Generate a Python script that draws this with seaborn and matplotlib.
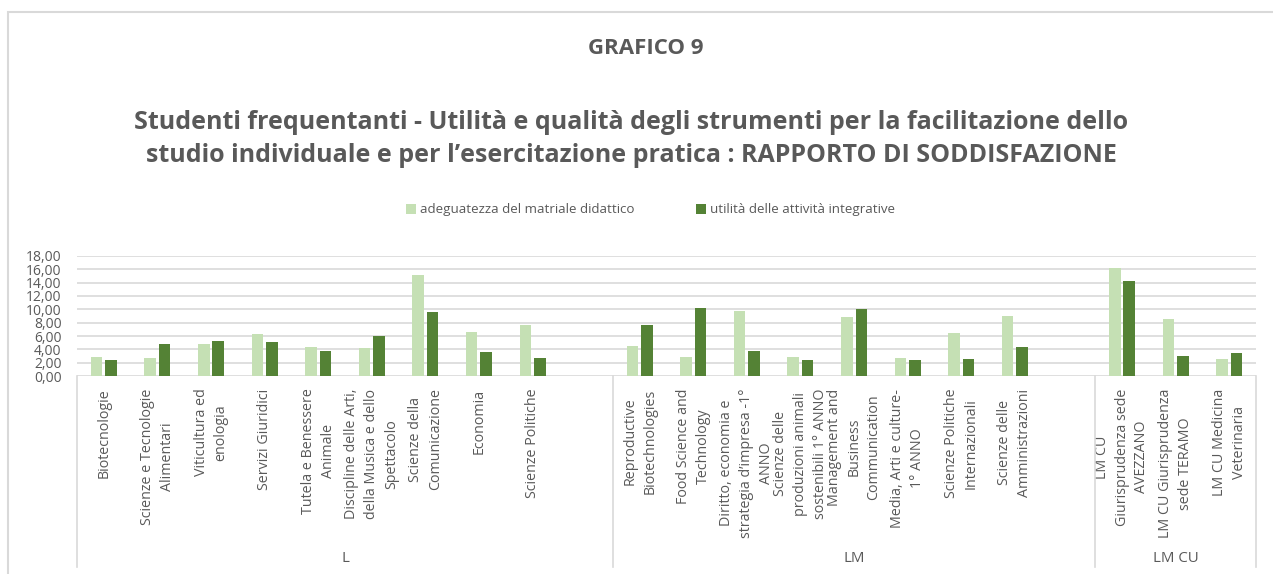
import seaborn as sns
import pandas as pd
import matplotlib.pyplot as plt
from matplotlib.patches import Rectangle

import warnings

warnings.filterwarnings("ignore")

# dati
corsi_l = ['Biotecnologie', 'Scienze e Tecnologie\nAlimentari', 'Viticultura ed\nenologia',
           'Servizi Giuridici', 'Tutela e Benessere\nAnimale',
           'Discipline delle Arti,\ndella Musica e dello\nSpettacolo', 'Scienze della\nComunicazione',
           'Economia', 'Scienze Politiche']
corsi_lm = ['Reproductive\nBiotechnologies', 'Food Science and\nTechnology',
            'Diritto, economia e\nstrategia d’impresa -1°\nANNO',
            'Scienze delle\nproduzioni animali\nsostenibili 1° ANNO',
            'Management and\nBusiness\nCommunication', 'Media, Arti e culture-\n1° ANNO',
            'Scienze Politiche\nInternazionali', 'Scienze delle\nAmministrazioni']
corsi_lmcu = ['LM CU\nGiurisprudenza sede\nAVEZZANO', 'LM CU Giurisprudenza\nsede TERAMO',
              'LM CU Medicina\nVeterinaria']
gruppi = ['L', 'LM', 'LM CU']

adeguatezza_l = [2.91, 2.66, 4.87, 6.28, 4.32, 4.27, 15.18, 6.53, 7.64]
utilita_l = [2.46, 4.82, 5.28, 5.03, 3.72, 5.93, 9.55, 3.67, 2.76]
adeguatezza_lm = [4.57, 2.86, 9.70, 2.86, 8.84, 2.76, 6.38, 9.05]
utilita_lm = [7.59, 10.25, 3.82, 2.46, 10.00, 2.41, 2.56, 4.37]
adeguatezza_lmcu = [16.18, 8.59, 2.61]
utilita_lmcu = [14.32, 3.02, 3.52]

serie = ['adeguatezza del matriale didattico', 'utilità delle attività integrative']

grigio = '#595959'
linea = '#D9D9D9'
colori = ['#C5E0B4', '#548235']


def build_frame():
    corsi = corsi_l + corsi_lm + corsi_lmcu
    ade = adeguatezza_l + adeguatezza_lm + adeguatezza_lmcu
    uti = utilita_l + utilita_lm + utilita_lmcu
    rows = []
    for c, a, u in zip(corsi, ade, uti):
        rows.append({'corso': c, 'serie': serie[0], 'valore': a})
        rows.append({'corso': c, 'serie': serie[1], 'valore': u})
    return pd.DataFrame(rows)


def grafico9():
    plt.rcParams['font.family'] = ['Open Sans', 'DejaVu Sans']
    df = build_frame()
    # slot vuoti alla fine dei gruppi L e LM, come nell'originale
    order = corsi_l + [' '] + corsi_lm + ['  '] + corsi_lmcu

    fig = plt.figure(figsize=(12.73, 5.74), dpi=100)
    ax = fig.add_axes([77 / 1273, 1 - 376 / 574, (1256 - 77) / 1273, 120 / 574])

    sns.barplot(data=df, x='corso', y='valore', hue='serie', order=order, hue_order=serie,
                palette=colori, width=0.54, gap=0.2, saturation=1, errorbar=None, ax=ax)

    ax.set_ylim(0, 18)
    ax.set_xlim(-0.5, len(order) - 0.5)
    ax.set_yticks(range(0, 19, 2))
    ax.set_yticklabels([('%.2f' % v).replace('.', ',') for v in range(0, 19, 2)])
    ax.set_xlabel('')
    ax.set_ylabel('')
    ax.set_axisbelow(True)
    ax.grid(axis='y', color=linea, linewidth=1.2)
    ax.grid(axis='x', visible=False)
    for s in ax.spines.values():
        s.set_visible(False)
    ax.tick_params(axis='both', length=0, colors=grigio)
    ax.tick_params(axis='y', labelsize=10, pad=11)
    ax.tick_params(axis='x', labelsize=10.3, pad=9)
    for t in ax.get_xticklabels():
        t.set_rotation(90)
        t.set_ha('center')
        t.set_va('top')
        t.set_multialignment('center')
        t.set_linespacing(1.45)

    # separatori e nomi dei gruppi
    tr = ax.get_xaxis_transform()
    confini = [-0.5, len(corsi_l) + 0.5, len(corsi_l) + len(corsi_lm) + 1.5, len(order) - 0.5]
    for xb in confini:
        ax.plot([xb, xb], [0, -1.59], transform=tr, color=linea, lw=1.2, clip_on=False)
    for i, g in enumerate(gruppi):
        ax.text((confini[i] + confini[i + 1]) / 2, -1.52, g, transform=tr, ha='center',
                va='center', fontsize=10.8, color=grigio)

    leg = ax.legend(loc='center', bbox_to_anchor=(0.511, 1 - 210 / 574),
                    bbox_transform=fig.transFigure, ncol=2, frameon=False,
                    handlelength=0.75, handleheight=0.75, handletextpad=0.3,
                    columnspacing=4.6, fontsize=9.6)
    for t in leg.get_texts():
        t.set_color(grigio)

    fig.text(0.507, 1 - 48 / 574, 'GRAFICO 9', ha='center', va='center',
             fontsize=16, fontweight='bold', color=grigio)
    fig.text(0.496, 1 - 139 / 574,
             'Studenti frequentanti - Utilità e qualità degli strumenti per la facilitazione dello\n'
             'studio individuale e per l’esercitazione pratica : RAPPORTO DI SODDISFAZIONE',
             ha='center', va='center', fontsize=18, fontweight='bold', color=grigio,
             linespacing=1.42)

    # cornice dell'area grafico
    fig.add_artist(Rectangle((8 / 1273, -0.1), 1.2, 1.1 - 12 / 574, transform=fig.transFigure,
                             fill=False, edgecolor=linea, lw=1.5))

    plt.savefig('out.png', dpi=100)


if __name__ == '__main__':
    grafico9()
